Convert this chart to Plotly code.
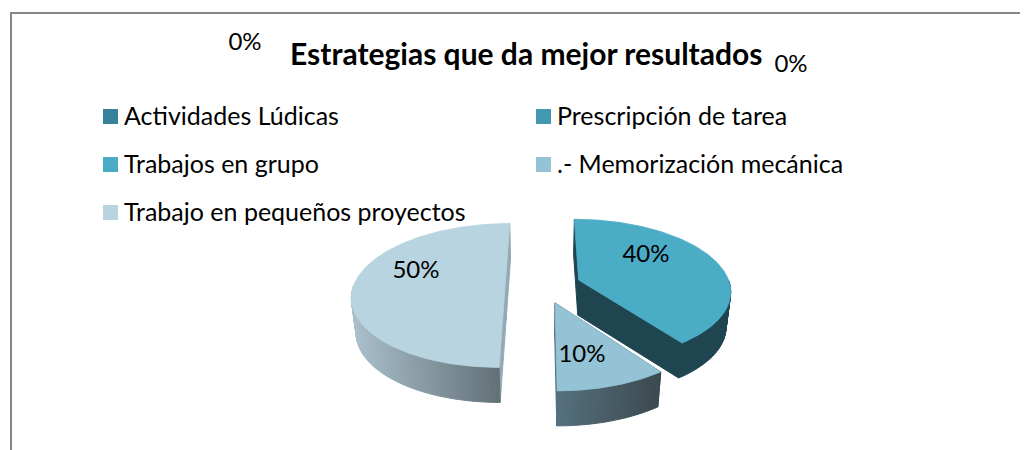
import math
import plotly.graph_objects as go

# --- data ---
categories = ["Actividades Lúdicas", "Prescripción de tarea", "Trabajos en grupo",
              ".- Memorización mecánica", "Trabajo en pequeños proyectos"]
values = [0, 0, 40, 10, 50]
title_text = "Estrategias que da mejor resultados"

# --- styles ---
legend_colors = ["#37829A", "#4198B0", "#4BACC6", "#93C3D5", "#B7D4E0"]
top_colors = legend_colors
edge_colors = ["#1E4550", "#1E4550", "#1E4550", "#55707E", "#93A9B4"]
arc_from = [(30, 69, 80), (30, 69, 80), (30, 69, 80), (85, 112, 126), (170, 192, 204)]
arc_to = [(30, 69, 80), (30, 69, 80), (30, 69, 80), (60, 73, 80), (98, 112, 119)]
FONT = "Lato"
PAGE_MARGIN = 8  # the browser's default body margin

# --- layout geometry of the projected pie ---
CX, CY, RX, RY = 543, 285.5, 151.5, 70.6
PERSP, EXPLODE, DEPTH, BOTTOM_SHRINK = 0.138, 0.25, 35, 0.975
label_pos = [(245, 44), (791, 66), (646, 256), (582, 356), (416, 272)]
legend_pos = [(103, 116.5), (536, 116.5), (103, 164.5), (536, 164.5), (103, 212.5)]


def project(u, v):
    s = 1 / (1 + PERSP * v)
    return CX + RX * u * s, CY - RY * v * s


def lower(p):
    return CX + (p[0] - CX) * BOTTOM_SHRINK, p[1] + DEPTH


def poly(points, color, width=1.0):
    xs = [p[0] for p in points] + [points[0][0]]
    ys = [p[1] for p in points] + [points[0][1]]
    return go.Scatter(x=xs, y=ys, mode="lines", fill="toself", fillcolor=color,
                      line=dict(color=color, width=width),
                      hoverinfo="skip", showlegend=False)


def blend(a, b, t):
    return "rgb(%d,%d,%d)" % tuple(round(a[i] + (b[i] - a[i]) * t) for i in range(3))


fig = go.Figure()
total = sum(values)
cum = 0
for i, val in enumerate(values):
    a0 = 360 * cum / total
    cum += val
    a1 = 360 * cum / total
    if val == 0:
        continue
    mid = math.radians((a0 + a1) / 2)
    ox, oy = EXPLODE * math.sin(mid), EXPLODE * math.cos(mid)
    apex = project(ox, oy)

    def rim(deg):
        r = math.radians(deg)
        return project(ox + math.sin(r), oy + math.cos(r))

    n = max(8, int((a1 - a0) * 1.5))
    angles = [a0 + (a1 - a0) * k / n for k in range(n + 1)]
    arc = [rim(d) for d in angles]

    # straight walls
    for corner in (arc[0], arc[-1]):
        fig.add_trace(poly([apex, corner, lower(corner), lower(apex)], edge_colors[i]))

    # curved wall (front half only), shaded segment by segment
    f0, f1 = max(a0, 90), min(a1, 270)
    if f1 > f0:
        m = max(6, int((f1 - f0) / 1.5))
        front = [f0 + (f1 - f0) * k / m for k in range(m + 1)]
        xs = [rim(d)[0] for d in front]
        xlo, xhi = min(xs), max(xs)
        for k in range(m):
            p, q = rim(front[k]), rim(front[k + 1])
            t = ((p[0] + q[0]) / 2 - xlo) / (xhi - xlo)
            fig.add_trace(poly([p, q, lower(q), lower(p)], blend(arc_from[i], arc_to[i], t)))

    # top face
    fig.add_trace(poly([apex] + arc, top_colors[i], width=0.8))

# data labels
fig.add_trace(go.Scatter(
    x=[p[0] for p in label_pos], y=[p[1] for p in label_pos], mode="text",
    text=[f"{v}%" for v in values], textposition="middle center",
    textfont=dict(family=FONT, size=24, color="#000000"),
    hoverinfo="skip", showlegend=False))

# legend swatches
fig.add_trace(go.Scatter(
    x=[p[0] + 7.5 for p in legend_pos], y=[p[1] for p in legend_pos], mode="markers",
    marker=dict(symbol="square", size=15, color=legend_colors, line=dict(width=0)),
    hoverinfo="skip", showlegend=False))

for name, p in zip(categories, legend_pos):
    fig.add_annotation(x=p[0] + 19, y=p[1] - 2, text=name, showarrow=False, xanchor="left",
                       yanchor="middle", xref="x", yref="y",
                       font=dict(family=FONT, size=25, color="#000000"))

fig.add_annotation(x=525.5, y=53, text=f"<b>{title_text}</b>", showarrow=False,
                   xanchor="center", yanchor="middle", xref="x", yref="y",
                   font=dict(family=FONT, size=30, color="#000000"))

# chart frame (top and left edges are in view)
frame = dict(type="line", xref="x", yref="y", line=dict(color="#868686", width=2))
fig.add_shape(x0=11, x1=11, y0=13, y1=450, **frame)
fig.add_shape(x0=10, x1=1028, y0=13, y1=13, **frame)

fig.update_layout(
    width=1028 - PAGE_MARGIN, height=450 - PAGE_MARGIN, margin=dict(l=0, r=0, t=0, b=0),
    paper_bgcolor="#FFFFFF", plot_bgcolor="#FFFFFF", showlegend=False,
    xaxis=dict(range=[PAGE_MARGIN, 1028], visible=False, fixedrange=True),
    yaxis=dict(range=[450, PAGE_MARGIN], visible=False, fixedrange=True),
)
fig.write_html("out.html", config={"displayModeBar": False})
